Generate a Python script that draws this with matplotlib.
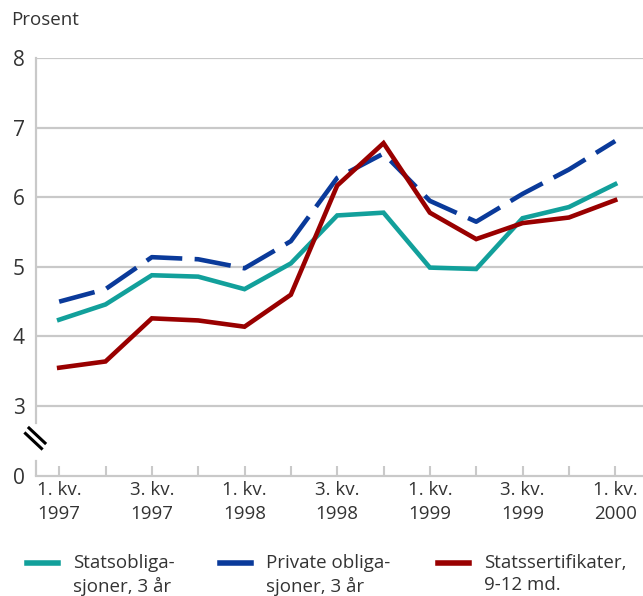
import matplotlib
matplotlib.use("Agg")
import matplotlib.pyplot as plt
from matplotlib.lines import Line2D

plt.rcParams['font.family'] = ['Open Sans', 'DejaVu Sans']

# ----- data -----
quarters = list(range(13))  # 1. kv. 1997 .. 1. kv. 2000
tick_labels = ['1. kv.\n1997', '', '3. kv.\n1997', '', '1. kv.\n1998', '',
               '3. kv.\n1998', '', '1. kv.\n1999', '', '3. kv.\n1999', '',
               '1. kv.\n2000']
statsoblig = [4.24, 4.46, 4.88, 4.86, 4.68, 5.05, 5.74, 5.78, 4.99, 4.97,
              5.70, 5.86, 6.19]
private = [4.50, 4.68, 5.14, 5.11, 4.98, 5.37, 6.28, 6.63, 5.95, 5.65,
           6.05, 6.40, 6.81]
statssert = [3.55, 3.64, 4.26, 4.23, 4.14, 4.60, 6.17, 6.78, 5.78, 5.40,
             5.63, 5.71, 5.96]
labels = ['Statsobliga-\nsjoner, 3 år', 'Private obliga-\nsjoner, 3 år',
          'Statssertifikater,\n9-12 md.']
# y axis is broken: 0 is drawn where 2 would be
ytick_pos = [2, 3, 4, 5, 6, 7, 8]
ytick_lab = ['0', '3', '4', '5', '6', '7', '8']

teal = '#12a09b'
blue = '#0a3a9a'
red = '#990000'
grid = '#c9c9c9'
txt = '#333333'

W, H = 643, 596
fig = plt.figure(figsize=(W / 100, H / 100), dpi=100)


def fx(px):
    return px / W


def fy(py):
    return 1 - py / H


ax = fig.add_axes([fx(36), fy(475.5), fx(643 - 36), (475.5 - 58.3) / H])
ax.set_xlim(-0.5, 12.6)
ax.set_ylim(2, 8)

for v in ytick_pos[1:]:
    ax.axhline(v, color=grid, lw=1.6, zorder=0)

lw = 3.3
ax.plot(quarters, statsoblig, color=teal, lw=lw, solid_joinstyle='miter')
ax.plot(quarters, private, color=blue, lw=lw, dashes=(8, 2.7),
        dash_capstyle='butt')
ax.plot(quarters, statssert, color=red, lw=lw, solid_joinstyle='miter')

for s in ['top', 'right', 'left']:
    ax.spines[s].set_visible(False)
ax.spines['bottom'].set_color(grid)
ax.spines['bottom'].set_linewidth(1.6)

# left axis in two pieces with a break
yt = ax.get_yaxis_transform()
ax.plot([0, 0], [2.76, 8], color=grid, lw=1.6, transform=yt, clip_on=False)
ax.plot([0, 0], [2, 2.21], color=grid, lw=1.6, transform=yt, clip_on=False)
fig.add_artist(Line2D([fx(29), fx(45)], [fy(428), fy(443)], color='black', lw=2.2))
fig.add_artist(Line2D([fx(25.5), fx(41.5)], [fy(433.5), fy(448.5)], color='black', lw=2.2))

ax.set_xticks(quarters)
ax.set_xticklabels(tick_labels, fontsize=13.5, color=txt, linespacing=1.45)
ax.tick_params(axis='x', direction='in', length=7, width=1.5, color=grid, pad=4)
ax.set_yticks(ytick_pos)
ax.set_yticklabels(ytick_lab, fontsize=15, color=txt)
ax.tick_params(axis='y', length=0, pad=8)

fig.text(fx(11), fy(20), 'Prosent', fontsize=13.5, color=txt, va='center')

# legend drawn by hand
leg_x = [27, 220, 438]
for x0, c, lab in zip(leg_x, [teal, blue, red], labels):
    fig.add_artist(Line2D([fx(x0), fx(x0 + 31)], [fy(563), fy(563)], color=c, lw=4))
    fig.text(fx(x0 + 46), fy(554), lab, fontsize=13.5, color=txt, va='top',
             linespacing=1.3)

fig.savefig('out.png', dpi=100)
